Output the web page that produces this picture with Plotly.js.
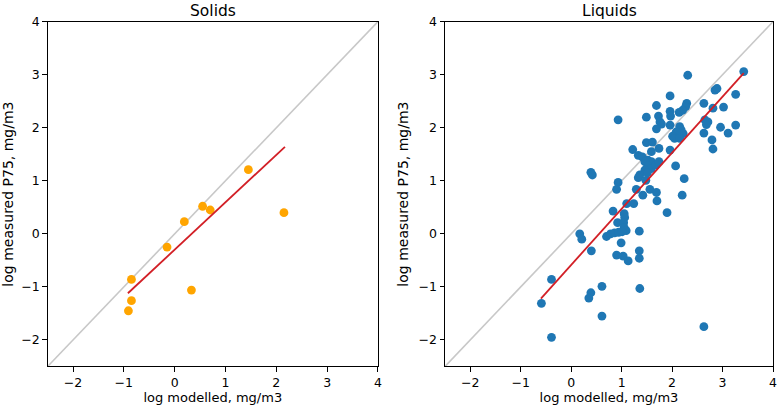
<!DOCTYPE html>
<html>
<head>
<meta charset="utf-8">
<script src="https://cdn.plot.ly/plotly-3.0.1.min.js"></script>
<style>html,body{margin:0;padding:0;background:#fff;}#chart{width:779px;height:409px;}</style>
</head>
<body>
<div id="chart"></div>
<script>
// Solids: log modelled (x) vs log measured P75 (y)
var solidsX = [1.45, 2.15, 0.55, 0.70, 0.19, -0.15, -0.85, 0.33, -0.85, -0.91];
var solidsY = [1.21, 0.40, 0.52, 0.45, 0.23, -0.25, -0.86, -1.06, -1.26, -1.45];
var solidsFitX = [-0.92, 2.17];
var solidsFitY = [-1.12, 1.64];

// Liquids
var liquidsX = [3.42, 2.31, 2.85, 2.89, 3.26, 1.96, 1.69, 2.29, 2.27, 2.21, 2.14, 2.63, 3.02, 2.81, 1.96, 1.97, 1.73, 1.49, 0.93, 1.76,
  1.79, 2.65, 2.71, 2.68, 1.96, 2.15, 2.18, 2.22, 2.08, 2.01, 2.05, 2.15, 2.96, 3.26, 3.11, 2.63, 2.79, 2.81, 1.69, 1.49,
  1.61, 1.74, 1.96, 1.22, 1.59, 1.33, 1.41, 1.52, 1.59, 1.46, 1.52, 1.59, 1.68, 1.74, 2.07, 1.46, 1.51, 1.36, 1.33, 1.48,
  0.39, 0.42, 2.24, 0.93, 0.90, 1.29, 1.56, 1.69, 1.42, 2.20, 1.70, 1.10, 1.24, 1.90, 0.83, 1.05, 1.06, 0.92, 1.04, 1.05,
  1.09, 0.70, 0.78, 0.86, 0.94, 1.01, 1.35, 0.17, 0.21, 0.99, 0.40, 1.35, 0.90, 1.03, 1.13, 1.35, -0.39, -0.59, 0.39, 0.35,
  0.61, 1.36, 0.61, 2.63, -0.39];
var liquidsY = [3.06, 2.99, 2.71, 2.74, 2.63, 2.60, 2.42, 2.46, 2.40, 2.33, 2.29, 2.46, 2.39, 2.37, 2.31, 2.22, 2.22, 2.20, 2.15, 2.11,
  2.07, 2.15, 2.11, 2.06, 2.05, 2.02, 1.96, 1.89, 1.92, 1.84, 1.80, 1.80, 2.01, 2.05, 1.90, 1.90, 1.77, 1.60, 1.98, 1.72,
  1.73, 1.61, 1.58, 1.59, 1.55, 1.48, 1.45, 1.39, 1.36, 1.36, 1.28, 1.23, 1.30, 1.36, 1.28, 1.20, 1.15, 1.11, 1.06, 1.01,
  1.16, 1.11, 1.04, 0.97, 0.84, 0.84, 0.84, 0.78, 0.73, 0.73, 0.62, 0.57, 0.57, 0.40, 0.43, 0.38, 0.31, 0.21, 0.21, 0.12,
  0.06, -0.05, 0.00, 0.02, 0.03, 0.04, 0.05, 0.00, -0.10, -0.17, -0.32, -0.32, -0.40, -0.42, -0.51, -0.46, -0.86, -1.31, -1.11, -1.21,
  -0.99, -1.03, -1.55, -1.75, -1.95];
var liquidsFitX = [-0.60, 3.42];
var liquidsFitY = [-1.22, 3.03];

var identity = [-2.5, 4];
var tickVals = [-2, -1, 0, 1, 2, 3, 4];

var fam = 'DejaVu Sans, sans-serif';
var tickFont = {family: fam, size: 12.5, color: '#000'};
var xTitleFont = {family: fam, size: 13, color: '#000'};
var yTitleFont = {family: fam, size: 14, color: '#000'};

var traces = [
  {x: identity, y: identity, mode: 'lines', line: {color: '#c8c8c8', width: 1.6}, xaxis: 'x', yaxis: 'y', hoverinfo: 'skip'},
  {x: solidsX, y: solidsY, mode: 'markers', marker: {color: '#ffa500', size: 8.8}, xaxis: 'x', yaxis: 'y'},
  {x: solidsFitX, y: solidsFitY, mode: 'lines', line: {color: '#d21f26', width: 1.8}, xaxis: 'x', yaxis: 'y'},
  {x: identity, y: identity, mode: 'lines', line: {color: '#c8c8c8', width: 1.6}, xaxis: 'x2', yaxis: 'y2', hoverinfo: 'skip'},
  {x: liquidsX, y: liquidsY, mode: 'markers', marker: {color: '#1f77b4', size: 8.8}, xaxis: 'x2', yaxis: 'y2'},
  {x: liquidsFitX, y: liquidsFitY, mode: 'lines', line: {color: '#d21f26', width: 1.8}, xaxis: 'x2', yaxis: 'y2'}
];

function axis(domain, title, anchor, tfont, standoff) {
  return {
    domain: domain, anchor: anchor, range: [-2.5, 4], tickvals: tickVals,
    showgrid: false, zeroline: false, showline: true, mirror: true,
    linecolor: '#000', linewidth: 1, ticks: 'outside', ticklen: 4.5, tickcolor: '#000', tickwidth: 1,
    tickfont: tickFont, title: {text: title, font: tfont, standoff: standoff}
  };
}

var layout = {
  width: 779, height: 409,
  margin: {l: 0, r: 0, t: 0, b: 0},
  paper_bgcolor: '#fff', plot_bgcolor: '#fff',
  showlegend: false, font: tickFont,
  xaxis: axis([0.0611, 0.4852], 'log modelled, mg/m3', 'y', xTitleFont, 1),
  yaxis: axis([0.104, 0.947], 'log measured P75, mg/m3', 'x', yTitleFont, 6),
  xaxis2: axis([0.5713, 0.9923], 'log modelled, mg/m3', 'y2', xTitleFont, 1),
  yaxis2: axis([0.104, 0.947], 'log measured P75, mg/m3', 'x2', yTitleFont, 6),
  annotations: [
    {text: 'Solids', xref: 'paper', yref: 'paper', x: 0.2731, y: 0.974, xanchor: 'center', yanchor: 'middle', showarrow: false, font: {family: fam, size: 15.5, color: '#000'}},
    {text: 'Liquids', xref: 'paper', yref: 'paper', x: 0.7818, y: 0.974, xanchor: 'center', yanchor: 'middle', showarrow: false, font: {family: fam, size: 15.5, color: '#000'}}
  ]
};

Plotly.newPlot('chart', traces, layout, {staticPlot: true, displayModeBar: false});
</script>
</body>
</html>
